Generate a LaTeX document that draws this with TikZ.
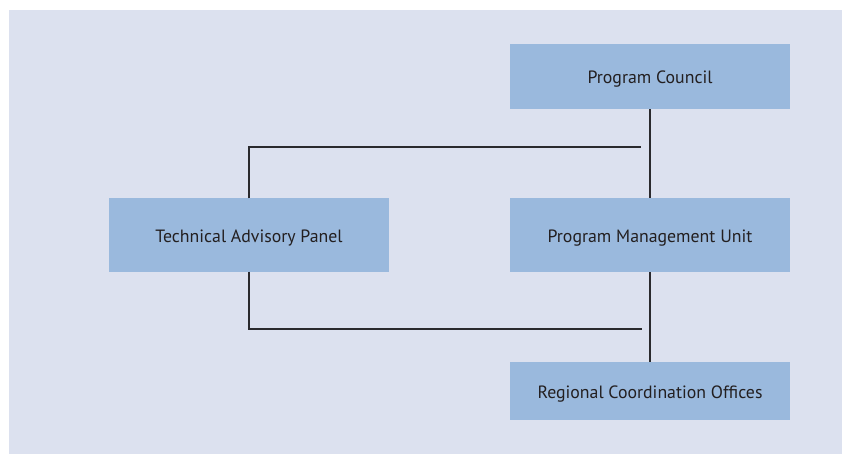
\documentclass[tikz,border=0pt]{standalone}
\usepackage{fontspec}
\setmainfont{PT Sans}
\usepackage{xcolor}
\usetikzlibrary{calc}

\definecolor{panelbg}{HTML}{DCE1EF}
\definecolor{boxfill}{HTML}{9AB9DD}
\definecolor{boxtext}{HTML}{231F20}
\definecolor{linkcol}{HTML}{2A2A2E}

\tikzset{
  unit/.style={fill=boxfill, text=boxtext, minimum width=280pt, inner sep=0pt,
    text height=16pt, text depth=1.6pt, font=\fontsize{17.8}{21}\selectfont},
  link/.style={color=linkcol, line width=1.3pt}
}

\begin{document}
\begin{tikzpicture}[x=1pt,y=-1pt]

\useasboundingbox (0,0) rectangle (842,454);
\fill[panelbg] (9,10) rectangle (842,454);

\node[unit, minimum height=65pt] (council) at (650,76.5) {Program Council};
\node[unit, minimum height=73pt] (panel) at (249,235) {Technical Advisory Panel};
\node[unit, minimum height=74pt] (pmu) at (650,235) {Program Management Unit};
\node[unit, minimum height=58pt] (offices) at (650,391) {Regional Coordination Offices};

\coordinate (upperend) at (641,147);
\coordinate (lowerend) at (642,329);

\draw[link] (council.south) -- (pmu.north);
\draw[link] (pmu.south) -- (offices.north);
\draw[link] (panel.north) |- (upperend);
\draw[link] (panel.south) |- (lowerend);

\end{tikzpicture}
\end{document}
